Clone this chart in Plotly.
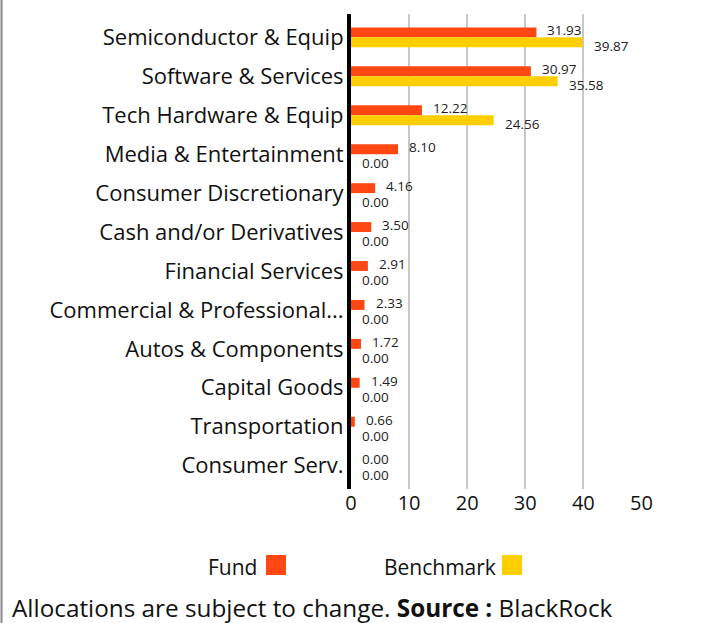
import plotly.graph_objects as go

categories = ["Semiconductor & Equip", "Software & Services", "Tech Hardware & Equip",
              "Media & Entertainment", "Consumer Discretionary", "Cash and/or Derivatives",
              "Financial Services", "Commercial & Professional...", "Autos & Components",
              "Capital Goods", "Transportation", "Consumer Serv."]
fund = [31.93, 30.97, 12.22, 8.10, 4.16, 3.50, 2.91, 2.33, 1.72, 1.49, 0.66, 0.00]
benchmark = [39.87, 35.58, 24.56, 0.00, 0.00, 0.00, 0.00, 0.00, 0.00, 0.00, 0.00, 0.00]
x_ticks = [0, 10, 20, 30, 40, 50]

FUND_C = "#FF4713"
BENCH_C = "#FFCE00"
FONT = "Open Sans"

W, H = 718, 623
L, R, T, B = 351, 76, 14, 134
PW, PH = W - L - R, H - T - B


def px(x):
    return (x - L) / PW


def py(y):
    return (H - B - y) / PH


fig = go.Figure()
fig.add_trace(go.Bar(y=categories, x=fund, orientation="h", name="Fund",
                     marker=dict(color=FUND_C, line=dict(width=0)), showlegend=False))
fig.add_trace(go.Bar(y=categories, x=benchmark, orientation="h", name="Benchmark",
                     marker=dict(color=BENCH_C, line=dict(width=0)), showlegend=False))

annotations = []
for c, f, b in zip(categories, fund, benchmark):
    annotations.append(dict(x=f, y=c, xref="x", yref="y", text=f"{f:.2f}", showarrow=False,
                            xanchor="left", yanchor="middle", xshift=9, yshift=7,
                            font=dict(family=FONT, size=13.5, color="#222")))
    annotations.append(dict(x=b, y=c, xref="x", yref="y", text=f"{b:.2f}", showarrow=False,
                            xanchor="left", yanchor="middle", xshift=9, yshift=-9,
                            font=dict(family=FONT, size=13.5, color="#222")))

# legend (text with square to the right) and footer
annotations.append(dict(x=px(259), y=py(567), xref="paper", yref="paper", text="Fund",
                        showarrow=False, xanchor="right", yanchor="middle",
                        font=dict(family=FONT, size=21, color="#111")))
annotations.append(dict(x=px(498), y=py(567), xref="paper", yref="paper", text="Benchmark",
                        showarrow=False, xanchor="right", yanchor="middle",
                        font=dict(family=FONT, size=21, color="#111")))
annotations.append(dict(x=px(10), y=py(607), xref="paper", yref="paper",
                        text="Allocations are subject to change. <b>Source :</b> BlackRock",
                        showarrow=False, xanchor="left", yanchor="middle",
                        font=dict(family=FONT, size=24.3, color="#111")))

shapes = [
    dict(type="rect", xref="paper", yref="paper", x0=px(266), x1=px(286),
         y0=py(575), y1=py(555), fillcolor=FUND_C, line=dict(width=0)),
    dict(type="rect", xref="paper", yref="paper", x0=px(502), x1=px(522),
         y0=py(575), y1=py(555), fillcolor=BENCH_C, line=dict(width=0)),
    dict(type="line", xref="paper", yref="paper", x0=px(1.5), x1=px(1.5), y0=py(0), y1=py(H),
         line=dict(color="#888", width=2)),
]

n = len(categories)
fig.update_layout(
    width=W, height=H,
    margin=dict(l=L, r=R, t=T, b=B, autoexpand=False),
    paper_bgcolor="white", plot_bgcolor="white",
    barmode="group", bargap=0.49, bargroupgap=0,
    font=dict(family=FONT, size=20, color="#111"),
    xaxis=dict(range=[0, 50.1], tickvals=x_ticks, ticktext=[str(t) for t in x_ticks],
               showgrid=True, gridcolor="#c8c8c8", gridwidth=2, zeroline=False,
               showline=False, ticks="", tickfont=dict(size=20, color="#111"), fixedrange=True),
    yaxis=dict(range=[n - 0.4, -0.6], showline=True, linecolor="black", linewidth=4,
               showgrid=False, ticks="", tickfont=dict(size=22, color="#111"),
               ticklabelstandoff=-1, fixedrange=True),
    annotations=annotations, shapes=shapes,
)

fig.write_html("out.html", config={"displayModeBar": False},
               post_script="document.body.style.margin='0';")
